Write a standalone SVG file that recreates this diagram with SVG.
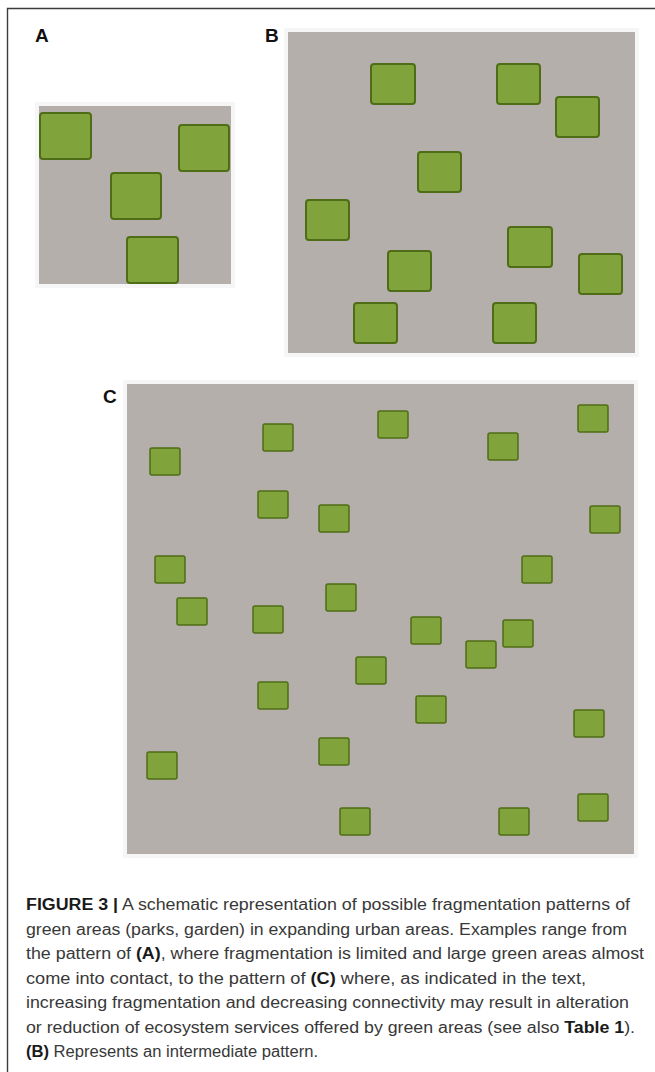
<svg xmlns="http://www.w3.org/2000/svg" width="655" height="1072" viewBox="0 0 655 1072">
<style>
.bg{fill:#b5afab}
.halo{fill:#f6f6f6}
.sqL{fill:#80a33c;stroke:#4f6d16;stroke-width:2}
.sqS{fill:#80a33c;stroke:#4f6d16;stroke-width:1.5}
.lbl{font-family:"Liberation Sans",Arial,sans-serif;font-weight:bold;font-size:19px;fill:#111}
.cap{font-family:"Liberation Sans",Arial,sans-serif;font-size:16px;fill:#383838}
.b{font-weight:bold;fill:#1a1a1a}
</style>
<rect width="655" height="1072" fill="#ffffff"/>
<path d="M7.5,1072 V8.5 H655" fill="none" stroke="#3c3c3c" stroke-width="1.4"/>

<g id="panelA">
<text class="lbl" x="35" y="42">A</text>
<rect class="halo" x="35" y="102" width="200" height="186"/>
<rect class="bg" x="39" y="106" width="192" height="178"/>
<rect class="sqL" x="40" y="113" width="51" height="46" rx="3"/>
<rect class="sqL" x="179" y="125" width="50" height="46" rx="3"/>
<rect class="sqL" x="111" y="173" width="50" height="46" rx="3"/>
<rect class="sqL" x="127" y="237" width="51" height="46" rx="3"/>
</g>

<g id="panelB">
<text class="lbl" x="265" y="42">B</text>
<rect class="halo" x="284" y="28" width="355" height="329"/>
<rect class="bg" x="288" y="32" width="347" height="321"/>
<rect class="sqL" x="371" y="64" width="44" height="40" rx="3"/>
<rect class="sqL" x="497" y="64" width="43" height="40" rx="3"/>
<rect class="sqL" x="556" y="97" width="43" height="40" rx="3"/>
<rect class="sqL" x="418" y="152" width="43" height="40" rx="3"/>
<rect class="sqL" x="306" y="200" width="43" height="40" rx="3"/>
<rect class="sqL" x="508" y="227" width="44" height="40" rx="3"/>
<rect class="sqL" x="388" y="251" width="43" height="40" rx="3"/>
<rect class="sqL" x="579" y="254" width="43" height="40" rx="3"/>
<rect class="sqL" x="354" y="303" width="43" height="40" rx="3"/>
<rect class="sqL" x="493" y="303" width="43" height="40" rx="3"/>
</g>

<g id="panelC">
<text class="lbl" x="103" y="403">C</text>
<rect class="halo" x="123" y="380" width="515" height="478"/>
<rect class="bg" x="127" y="384" width="507" height="470"/>
<rect class="sqS" x="150" y="448" width="30" height="27" rx="2"/>
<rect class="sqS" x="263" y="424" width="30" height="27" rx="2"/>
<rect class="sqS" x="378" y="411" width="30" height="27" rx="2"/>
<rect class="sqS" x="488" y="433" width="30" height="27" rx="2"/>
<rect class="sqS" x="578" y="405" width="30" height="27" rx="2"/>
<rect class="sqS" x="258" y="491" width="30" height="27" rx="2"/>
<rect class="sqS" x="319" y="505" width="30" height="27" rx="2"/>
<rect class="sqS" x="590" y="506" width="30" height="27" rx="2"/>
<rect class="sqS" x="155" y="556" width="30" height="27" rx="2"/>
<rect class="sqS" x="522" y="556" width="30" height="27" rx="2"/>
<rect class="sqS" x="177" y="598" width="30" height="27" rx="2"/>
<rect class="sqS" x="253" y="606" width="30" height="27" rx="2"/>
<rect class="sqS" x="326" y="584" width="30" height="27" rx="2"/>
<rect class="sqS" x="411" y="617" width="30" height="27" rx="2"/>
<rect class="sqS" x="503" y="620" width="30" height="27" rx="2"/>
<rect class="sqS" x="466" y="641" width="30" height="27" rx="2"/>
<rect class="sqS" x="356" y="657" width="30" height="27" rx="2"/>
<rect class="sqS" x="258" y="682" width="30" height="27" rx="2"/>
<rect class="sqS" x="416" y="696" width="30" height="27" rx="2"/>
<rect class="sqS" x="574" y="710" width="30" height="27" rx="2"/>
<rect class="sqS" x="319" y="738" width="30" height="27" rx="2"/>
<rect class="sqS" x="147" y="752" width="30" height="27" rx="2"/>
<rect class="sqS" x="340" y="808" width="30" height="27" rx="2"/>
<rect class="sqS" x="499" y="808" width="30" height="27" rx="2"/>
<rect class="sqS" x="578" y="794" width="30" height="27" rx="2"/>
</g>

<g id="caption">
<text class="cap" x="26" y="910" textLength="604" lengthAdjust="spacingAndGlyphs"><tspan class="b">FIGURE 3 |</tspan> A schematic representation of possible fragmentation patterns of</text>
<text class="cap" x="26" y="934.5" textLength="601" lengthAdjust="spacingAndGlyphs">green areas (parks, garden) in expanding urban areas. Examples range from</text>
<text class="cap" x="26" y="959" textLength="618" lengthAdjust="spacingAndGlyphs">the pattern of <tspan class="b">(A)</tspan>, where fragmentation is limited and large green areas almost</text>
<text class="cap" x="26" y="983.5" textLength="560" lengthAdjust="spacingAndGlyphs">come into contact, to the pattern of <tspan class="b">(C)</tspan> where, as indicated in the text,</text>
<text class="cap" x="26" y="1008" textLength="603" lengthAdjust="spacingAndGlyphs">increasing fragmentation and decreasing connectivity may result in alteration</text>
<text class="cap" x="26" y="1032.5" textLength="609" lengthAdjust="spacingAndGlyphs">or reduction of ecosystem services offered by green areas (see also <tspan class="b">Table 1</tspan>).</text>
<text class="cap" x="26" y="1057" textLength="292" lengthAdjust="spacingAndGlyphs"><tspan class="b">(B)</tspan> Represents an intermediate pattern.</text>
</g>
</svg>
